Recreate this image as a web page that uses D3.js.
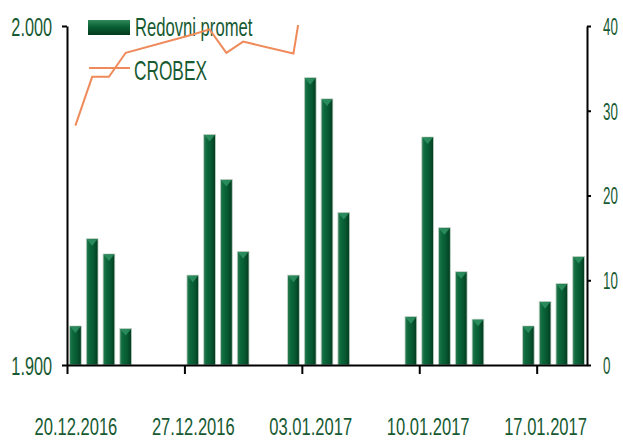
<!DOCTYPE html>
<html>
<head>
<meta charset="utf-8">
<script src="https://cdn.jsdelivr.net/npm/d3@7"></script>
<style>
  body { margin: 0; background: #fff; }
  svg { display: block; }
  text { font-family: "Liberation Sans", Arial, sans-serif; fill: #175a32; }
  .axis path, .axis line { stroke: #000; stroke-width: 2; }
</style>
</head>
<body>
<svg id="chart"></svg>
<script>
const days = ["2016-12-20", "2016-12-21", "2016-12-22", "2016-12-23",
              "2016-12-27", "2016-12-28", "2016-12-29", "2016-12-30",
              "2017-01-02", "2017-01-03", "2017-01-04", "2017-01-05",
              "2017-01-09", "2017-01-10", "2017-01-11", "2017-01-12", "2017-01-13",
              "2017-01-16", "2017-01-17", "2017-01-18", "2017-01-19"];
// Redovni promet (right axis)
const promet = [4.6, 14.9, 13.1, 4.3,
                10.6, 27.2, 21.9, 13.4,
                10.6, 33.9, 31.4, 18.0,
                5.7, 26.9, 16.2, 11.0, 5.4,
                4.6, 7.5, 9.6, 12.8];
// CROBEX (left axis) - from 03.01 on it runs above the top of the chart
const crobex = [1970.6, 1985.0, 1985.0, 1992.1,
                1997.5, 1999.0, 1992.1, 1995.4,
                1991.9, 2022, 2030, 2036,
                2045, 2055, 2062, 2070, 2078,
                2084, 2090, 2095, 2100];
const leftTicks = [1900, 2000];
const rightTicks = [0, 10, 20, 30, 40];
const dateTicks = ["2016-12-20", "2016-12-27", "2017-01-03", "2017-01-10", "2017-01-17"];

const width = 623, height = 441;
const svg = d3.select("#chart").attr("width", width).attr("height", height);

const x = d3.scaleUtc()
    .domain([new Date("2016-12-20"), new Date("2017-01-20")])
    .range([67, 587]);
const dayW = x(new Date("2016-12-21")) - x(new Date("2016-12-20"));
const yL = d3.scaleLinear().domain([1900, 2000]).range([365, 26]);
const yR = d3.scaleLinear().domain([0, 40]).range([365, 26]);

const hr = d3.formatLocale({decimal: ",", thousands: ".", grouping: [3], currency: ["", " kn"]});
const dateFmt = d3.utcFormat("%d.%m.%Y");

// squeeze text horizontally (the original uses a very narrow face)
function squash(sel, k) {
    sel.each(function() {
        const t = d3.select(this);
        const x0 = +t.attr("x") || 0;
        t.attr("x", x0 / k).attr("transform", `scale(${k},1)`);
    });
}

const defs = svg.append("defs");
const grad = defs.append("linearGradient").attr("id", "barGrad")
    .attr("x1", 0).attr("x2", 1).attr("y1", 0).attr("y2", 0);
grad.append("stop").attr("offset", "0%").attr("stop-color", "#2f7d55");
grad.append("stop").attr("offset", "25%").attr("stop-color", "#0c6a3c");
grad.append("stop").attr("offset", "65%").attr("stop-color", "#075731");
grad.append("stop").attr("offset", "100%").attr("stop-color", "#023a1d");

const lgrad = defs.append("linearGradient").attr("id", "legGrad")
    .attr("x1", 0).attr("x2", 0).attr("y1", 0).attr("y2", 1);
lgrad.append("stop").attr("offset", "0%").attr("stop-color", "#2f8a5a");
lgrad.append("stop").attr("offset", "45%").attr("stop-color", "#0a6034");
lgrad.append("stop").attr("offset", "100%").attr("stop-color", "#03391d");

defs.append("clipPath").attr("id", "plotClip")
  .append("rect").attr("x", 67).attr("y", 25).attr("width", 520).attr("height", 341);

const parsed = days.map(d => new Date(d));
const barW = dayW * 0.7;

// bars
const bars = svg.append("g");
bars.selectAll("rect")
    .data(parsed)
    .enter()
    .append("rect")
    .attr("x", (d) => x(d) + dayW / 2 - barW / 2)
    .attr("y", (d, i) => yR(promet[i]))
    .attr("width", barW)
    .attr("height", (d, i) => yR(0) - yR(promet[i]))
    .attr("fill", "url(#barGrad)")
    .attr("stroke", "#c3d3c8")
    .attr("stroke-width", 0.8);

bars.selectAll("path")
    .data(parsed)
    .enter()
    .append("path")
    .attr("d", (d, i) => {
        const x0 = x(d) + dayW / 2 - barW / 2, x1 = x0 + barW, t = yR(promet[i]);
        return `M${x0 + 0.5},${t + 0.5}L${x1 - 0.5},${t + 0.5}L${(x0 + x1) / 2},${t + 7}Z`;
    })
    .attr("fill", "#2f9262")
    .attr("opacity", 0.85);

// axes
const gx = svg.append("g").attr("class", "axis")
    .attr("transform", "translate(0,365)")
    .call(d3.axisBottom(x)
        .tickValues(dateTicks.map(d => new Date(d)))
        .tickFormat(dateFmt)
        .tickSize(9)
        .tickSizeOuter(0));
gx.selectAll("text")
    .attr("x", dayW / 2)
    .attr("y", 70.5)
    .attr("dy", 0)
    .style("font-size", "24px")
    .call(squash, 0.69);

const gl = svg.append("g").attr("class", "axis")
    .attr("transform", "translate(67,0)")
    .call(d3.axisLeft(yL)
        .tickValues(leftTicks)
        .tickFormat(hr.format(",.0f"))
        .tickSize(5)
        .tickSizeOuter(0)
        .tickPadding(10));
gl.selectAll("text")
    .style("font-size", "25px")
    .attr("dy", "0.36em")
    .call(squash, 0.65);

const gr = svg.append("g").attr("class", "axis")
    .attr("transform", "translate(587,0)")
    .call(d3.axisRight(yR)
        .tickValues(rightTicks)
        .tickSize(4)
        .tickSizeOuter(0)
        .tickPadding(12));
gr.selectAll("text")
    .style("font-size", "23px")
    .attr("dy", "0.36em")
    .call(squash, 0.58);

// legend
const legend = svg.append("g");
legend.append("rect")
    .attr("x", 88).attr("y", 20).attr("width", 42).attr("height", 15)
    .attr("fill", "url(#legGrad)");
legend.append("text")
    .attr("x", 135).attr("y", 36)
    .style("font-size", "26px")
    .text("Redovni promet")
    .call(squash, 0.64);
legend.append("line")
    .attr("x1", 89).attr("x2", 130).attr("y1", 68).attr("y2", 68)
    .attr("stroke", "#ef8a5a").attr("stroke-width", 2);
legend.append("text")
    .attr("x", 134).attr("y", 80)
    .style("font-size", "27px")
    .text("CROBEX")
    .call(squash, 0.64);

// CROBEX line
const line = d3.line()
    .x((d, i) => x(parsed[i]) + dayW / 2)
    .y(d => yL(d));
svg.append("path")
    .datum(crobex)
    .attr("clip-path", "url(#plotClip)")
    .attr("fill", "none")
    .attr("stroke", "#ef8a5a")
    .attr("stroke-width", 2)
    .attr("d", line);
</script>
</body>
</html>
